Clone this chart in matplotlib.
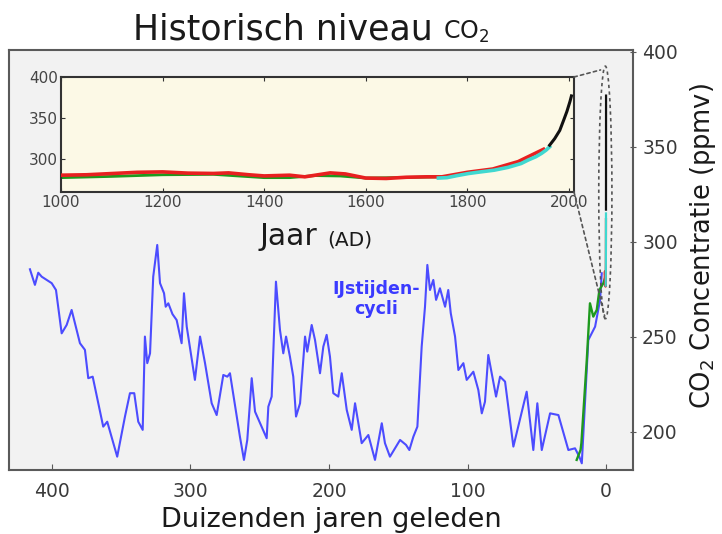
import numpy as np
import matplotlib
matplotlib.use("Agg")
import matplotlib.pyplot as plt
from matplotlib.patches import Ellipse, ConnectionPatch

# ---------------- data ----------------
# Vostok ice core (thousands of years ago, ppmv)
vostok_age = [415.9, 412.3, 409.9, 407.4, 400.2, 397.1, 393.0, 389.4, 385.8, 379.8,
              376.2, 373.8, 370.6, 363.0, 360.1, 352.9, 347.3, 343.7, 340.6, 337.7,
              334.5, 332.9, 331.2, 329.2, 326.9, 324.0, 322.0, 319.1, 317.9, 316.0,
              313.0, 310.0, 306.4, 304.7, 302.7, 296.8, 293.1, 289.5, 284.7, 281.1,
              276.3, 273.4, 271.5, 264.3, 261.4, 259.0, 255.8, 253.4, 245.0, 243.8,
              241.4, 238.3, 235.4, 233.0, 231.0, 228.2, 225.8, 223.8, 220.9, 217.3,
              215.7, 212.5, 210.1, 206.5, 204.1, 201.7, 199.3, 196.9, 193.3, 190.8,
              187.2, 183.6, 181.2, 176.4, 171.6, 166.8, 161.9, 159.6, 156.0, 148.7,
              144.4, 142.0, 139.1, 136.2, 133.1, 130.7, 129.0, 127.1, 124.7, 122.7,
              119.9, 116.2, 113.9, 112.1, 109.0, 106.6, 103.0, 100.6, 95.8, 92.2,
              89.7, 87.4, 85.0, 79.4, 76.5, 72.9, 66.9, 57.3, 52.5, 49.6,
              46.4, 40.4, 34.4, 27.2, 22.4, 19.3, 17.5, 12.8, 7.9, 4.3, 3.1]
vostok_co2 = [285.6, 277.4, 283.8, 281.7, 278.3, 274.7, 251.9, 256.3, 264.2, 246.7,
              243.2, 228.3, 229.1, 202.8, 205.4, 187.0, 208.1, 220.4, 220.4, 205.4,
              201.1, 250.2, 236.2, 241.4, 281.7, 298.4, 278.3, 273.0, 265.9, 267.7,
              262.0, 258.9, 246.7, 273.0, 255.4, 227.4, 250.2, 236.2, 215.1, 208.9,
              230.0, 229.1, 230.9, 197.5, 185.3, 195.8, 228.3, 210.7, 196.7, 213.3,
              218.6, 279.1, 253.7, 241.4, 250.2, 239.6, 229.1, 208.1, 215.1, 250.2,
              242.3, 256.3, 248.4, 230.9, 244.9, 251.1, 239.6, 220.4, 218.6, 230.9,
              211.6, 201.1, 215.1, 194.1, 198.4, 185.3, 204.6, 194.1, 187.0, 195.8,
              193.2, 190.5, 197.5, 202.8, 244.9, 265.9, 287.9, 274.7, 280.0, 269.5,
              275.6, 265.9, 274.7, 262.5, 250.2, 232.6, 236.2, 227.4, 231.7, 222.1,
              209.8, 215.9, 240.5, 218.6, 229.1, 226.5, 192.3, 221.2, 190.5, 215.1,
              190.5, 209.8, 208.9, 190.5, 191.4, 187.0, 183.5, 248.4, 255.4, 269.5, 283.5]

# Other ice core (last glacial termination)
other_age = [21.2, 18.4, 17.8, 13.9, 11.6, 9.2, 6.7, 4.8, 1.9, 0.7]
other_co2 = [185.3, 190.5, 194.1, 237.9, 267.7, 260.7, 264.2, 274.7, 278.3, 281.0]

# Law Dome (red), years AD
lawdome_year = [1000, 1050, 1100, 1150, 1200, 1250, 1300, 1330, 1370, 1400, 1450, 1480,
                1530, 1560, 1600, 1640, 1680, 1720, 1750, 1800, 1850, 1900, 1950]
lawdome_co2 = [280.5, 281.0, 282.5, 284.0, 284.5, 283.0, 282.6, 283.3, 281.0, 279.6,
               280.5, 278.5, 283.3, 282.0, 277.0, 276.5, 278.0, 278.5, 278.5, 284.0,
               288.0, 297.0, 312.0]

# Other record (green), years AD
green_year = [1000, 1100, 1200, 1300, 1400, 1450, 1500, 1550, 1600, 1650, 1700, 1745]
green_co2 = [277.5, 279.0, 281.0, 281.5, 277.5, 277.5, 280.0, 279.5, 277.0, 277.5, 278.0, 278.5]

# Siple / firn record (cyan), years AD
cyan_year = [1743, 1760, 1780, 1802, 1820, 1853, 1880, 1906, 1920, 1935, 1946, 1955, 1962]
cyan_co2 = [277.0, 277.5, 280.0, 282.5, 284.0, 286.6, 290.0, 294.7, 299.0, 303.0, 307.0, 311.0, 315.0]

# Mauna Loa (black), years AD
mlo_year = [1962, 1972, 1982, 1990, 1996, 2002, 2005]
mlo_co2 = [317.0, 325.0, 335.0, 348.0, 358.0, 370.0, 377.0]

main_xticks = [400, 300, 200, 100, 0]
main_yticks = [200, 250, 300, 350, 400]
inset_xticks = [1000, 1200, 1400, 1600, 1800, 2000]
inset_yticks = [300, 350, 400]

# ---------------- figure ----------------
BLUE = '#4c4cff'
GREEN = '#1e9a1e'
RED = '#e82020'
CYAN = '#40d8d0'
BLACK = '#111111'
SPINE = '#5a5a5a'

fig = plt.figure(figsize=(7.22, 5.34), dpi=100)

ax = fig.add_axes([0.0125, 0.1199, 0.8643, 0.7865])
ax.set_facecolor('#f2f2f2')
ax.plot(vostok_age, vostok_co2, color=BLUE, lw=1.5, zorder=3)
ax.plot(other_age, other_co2, color=GREEN, lw=1.7, zorder=4)
ka = lambda yrs: [(2000 - y) / 1000.0 for y in yrs]
ax.plot(ka(lawdome_year), lawdome_co2, color=RED, lw=1.6, zorder=5)
ax.plot(ka(cyan_year), cyan_co2, color=CYAN, lw=1.6, zorder=5)
ax.plot(ka(mlo_year), mlo_co2, color=BLACK, lw=1.6, zorder=5)

ax.set_xlim(431, -19.5)
ax.set_ylim(180, 401)
ax.set_xticks(main_xticks)
ax.set_yticks(main_yticks)
ax.yaxis.tick_right()
ax.tick_params(axis='x', direction='in', length=4, color=SPINE, labelsize=13.5,
               labelcolor='#3a3a3a', pad=9)
ax.tick_params(axis='y', direction='inout', length=5, color=SPINE, labelsize=13.5,
               labelcolor='#3a3a3a', pad=4)
for s in ax.spines.values():
    s.set_color(SPINE)
    s.set_linewidth(1.5)

ax.text(165.6, 270, 'IJstijden-\ncycli', color='#3a3aff', fontsize=12.5,
        fontweight='bold', ha='center', va='center', linespacing=1.15, zorder=6)

ell = Ellipse((0.5, 326), width=9.5, height=133, fill=False, ls=(0, (2, 2)),
              ec='#555555', lw=1.2, zorder=6)
ax.add_patch(ell)

# inset
ax2 = fig.add_axes([0.0845, 0.6404, 0.7105, 0.2154])
ax2.set_facecolor('#fcf9e6')
ax2.plot(lawdome_year, lawdome_co2, color=RED, lw=2.6, zorder=3)
ax2.plot(green_year, green_co2, color=GREEN, lw=2.0, zorder=2)
ax2.plot(cyan_year, cyan_co2, color=CYAN, lw=2.6, zorder=4)
ax2.plot(mlo_year, mlo_co2, color=BLACK, lw=2.2, zorder=5)
ax2.set_xlim(1000, 2010)
ax2.set_ylim(260, 400)
ax2.set_xticks(inset_xticks)
ax2.set_yticks(inset_yticks)
ax2.tick_params(direction='in', length=3, top=True, right=True, color='#333333',
                labelsize=11, labelcolor='#444444', pad=2)
for s in ax2.spines.values():
    s.set_color('#333333')
    s.set_linewidth(1.5)

for xyA, xyB in [((1, 1), (4.0, 390.5)), ((1, 0), (1.0, 261))]:
    con = ConnectionPatch(xyA=xyA, coordsA=ax2.transAxes, xyB=xyB, coordsB=ax.transData,
                          ls=(0, (2, 2)), color='#555555', lw=1.2)
    fig.add_artist(con)

# texts
fig.text(433 / 722, 1 - 39 / 534, 'Historisch niveau', fontsize=25, color='#1a1a1a',
         ha='right', va='baseline')
fig.text(443 / 722, 1 - 39 / 534, 'CO$_2$', fontsize=17, color='#1a1a1a',
         ha='left', va='baseline')
fig.text(331 / 722, 1 - 527 / 534, 'Duizenden jaren geleden', fontsize=19.5,
         color='#1a1a1a', ha='center', va='baseline')
fig.text(703 / 722, 1 - 246 / 534, 'CO$_2$ Concentratie (ppmv)', fontsize=18.5,
         color='#1a1a1a', rotation=90, ha='center', va='center')
fig.text(260 / 722, 1 - 245 / 534, 'Jaar', fontsize=21.5, color='#1a1a1a',
         ha='left', va='baseline')
fig.text(327 / 722, 1 - 245 / 534, '(AD)', fontsize=14.5, color='#1a1a1a',
         ha='left', va='baseline')

fig.savefig('out.png', dpi=100)
